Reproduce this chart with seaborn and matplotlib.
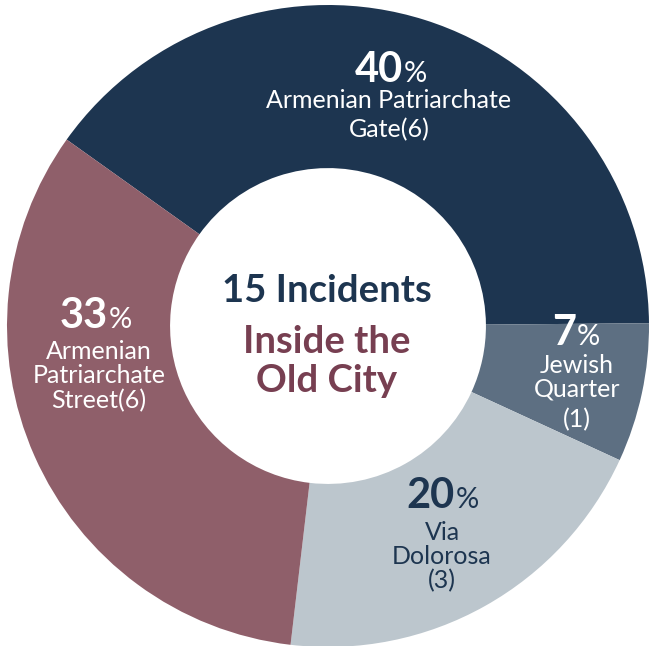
import seaborn as sns
import matplotlib.pyplot as plt

location_lines = [["Armenian Patriarchate", "Gate(6)"],
                  ["Jewish", "Quarter", "(1)"],
                  ["Via", "Dolorosa", "(3)"],
                  ["Armenian", "Patriarchate", "Street(6)"]]
shares = [40, 7, 20, 33]
pct_labels = ["40", "7", "20", "33"]
colors = ["#1d3550", "#5d6f82", "#bcc6cd", "#8f5f6a"]
text_colors = ["white", "white", "#1d3550", "white"]

total_incidents = 15
center_sub = ["Inside the", "Old City"]

sns.set_theme(style="white")
plt.rcParams["font.family"] = ["Lato", "DejaVu Sans"]

W, H = 649, 646
fig = plt.figure(figsize=(W / 100, H / 100), dpi=100)
ax = fig.add_axes([0, 0, 1, 1])

R = 321
cx, cy = 328, 326


def px(x, y):
    # pixel (from top-left) -> data units
    return (x - cx) / R, (cy - y) / R


ax.pie(shares, colors=colors, startangle=144.5, counterclock=False,
       radius=1, wedgeprops=dict(width=0.508, linewidth=0))

ax.set_xlim(-cx / R, (W - cx) / R)
ax.set_ylim(-(H - cy) / R, cy / R)
ax.set_aspect("equal")
ax.axis("off")

# number/% split x, number baseline y, name center x, name baselines
spots = [(403, 82, 389, [108, 137]),
         (576, 345, 577, [373, 397, 427]),
         (455, 508, 442, [540, 564, 588]),
         (108, 328, 99, [359, 383, 408])]

for i, (xs, yb, xn, ys) in enumerate(spots):
    c = text_colors[i]
    ax.text(*px(xs, yb), pct_labels[i], ha="right", va="baseline",
            fontsize=30, fontweight="bold", color=c)
    ax.text(*px(xs + 1, yb), "%", ha="left", va="baseline",
            fontsize=21, color=c)
    for line, y in zip(location_lines[i], ys):
        ax.text(*px(xn, y), line, ha="center", va="baseline",
                fontsize=18, color=c)

ax.text(*px(327, 302), f"{total_incidents} Incidents", ha="center",
        va="baseline", fontsize=27.5, fontweight="bold", color="#1d3550")
for line, y in zip(center_sub, [353, 392]):
    ax.text(*px(327, y), line, ha="center", va="baseline",
            fontsize=27.5, fontweight="bold", color="#773f51")

fig.savefig("out.png", dpi=100, facecolor="white")
